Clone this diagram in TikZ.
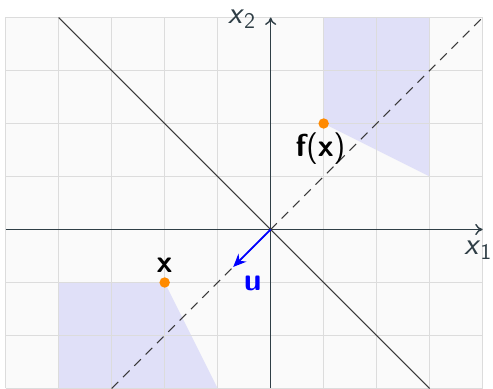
\documentclass[tikz,border=0pt]{standalone}
\usetikzlibrary{arrows.meta}
\definecolor{bgc}{HTML}{FAFAFA}
\definecolor{gridc}{HTML}{DCDCDC}
\definecolor{axisc}{HTML}{2F3E46}
\definecolor{linec}{HTML}{3A3A3A}
\definecolor{shadec}{HTML}{E0E0F8}
\definecolor{dotc}{HTML}{FF8A00}
\tikzset{
  gridline/.style={gridc, line width=0.6pt},
  axisline/.style={axisc, line width=0.75pt, -{To[length=4pt,width=6pt]}},
  diagline/.style={linec, line width=0.55pt},
  dashline/.style={linec, line width=0.55pt, dash pattern=on 5pt off 3.6pt},
  shade/.style={fill=shadec, draw=none},
  dot/.style={circle, fill=dotc, inner sep=0pt, minimum size=5.6pt},
  lbl/.style={font=\fontsize{17}{20}\selectfont\sffamily\bfseries, inner sep=1pt},
  axlbl/.style={font=\fontsize{17}{20}\selectfont\sffamily, text=axisc, inner sep=0pt},
  uvec/.style={blue, line width=1pt, -{Stealth[length=7pt,width=6pt]}}
}
\begin{document}
\begin{tikzpicture}
\useasboundingbox (-5.107,-3) rectangle (4.195,4.33);
\fill[bgc] (-5,-3) rectangle (4,4);
\fill[shade] (1,2) -- (1,4) -- (3,4) -- (3,1) -- cycle;
\fill[shade] (-2,-1) -- (-1,-3) -- (-4,-3) -- (-4,-1) -- cycle;
\draw[gridline] (-5,-3) grid (4,4);
\coordinate (O) at (0,0);
\coordinate (xl) at (-5,0);
\coordinate (xr) at (4,0);
\coordinate (yb) at (0,-3);
\coordinate (yt) at (0,4);
\coordinate (d1) at (-4,4);
\coordinate (d2) at (3,-3);
\coordinate (e1) at (-3,-3);
\coordinate (e2) at (4,4);
\draw[diagline] (d1) -- (d2);
\draw[dashline] (e1) -- (e2);
\draw[axisline] (xl) -- (xr);
\draw[axisline] (yb) -- (yt);
\node[axlbl, anchor=base east] (x1lbl) at (4.19,-0.48) {\textit{x}$_{\mathsf{1}}$};
\node[axlbl, anchor=base east] (x2lbl) at (-0.27,3.89) {\textit{x}$_{\mathsf{2}}$};
\coordinate (uend) at (-0.707,-0.707);
\draw[uvec] (O) -- (uend);
\node[lbl, text=blue] (ulbl) at (-0.34,-1.02) {u};
\node[dot] (x) at (-2,-1) {};
\node[dot] (fx) at (1,2) {};
\node[lbl, anchor=south] (xlbl) at ([yshift=1pt]x.north) {x};
\node[lbl, anchor=north] (fxlbl) at ([xshift=-0.06cm,yshift=-1pt]fx.south) {f{\mdseries(}x{\mdseries)}};
\end{tikzpicture}
\end{document}
